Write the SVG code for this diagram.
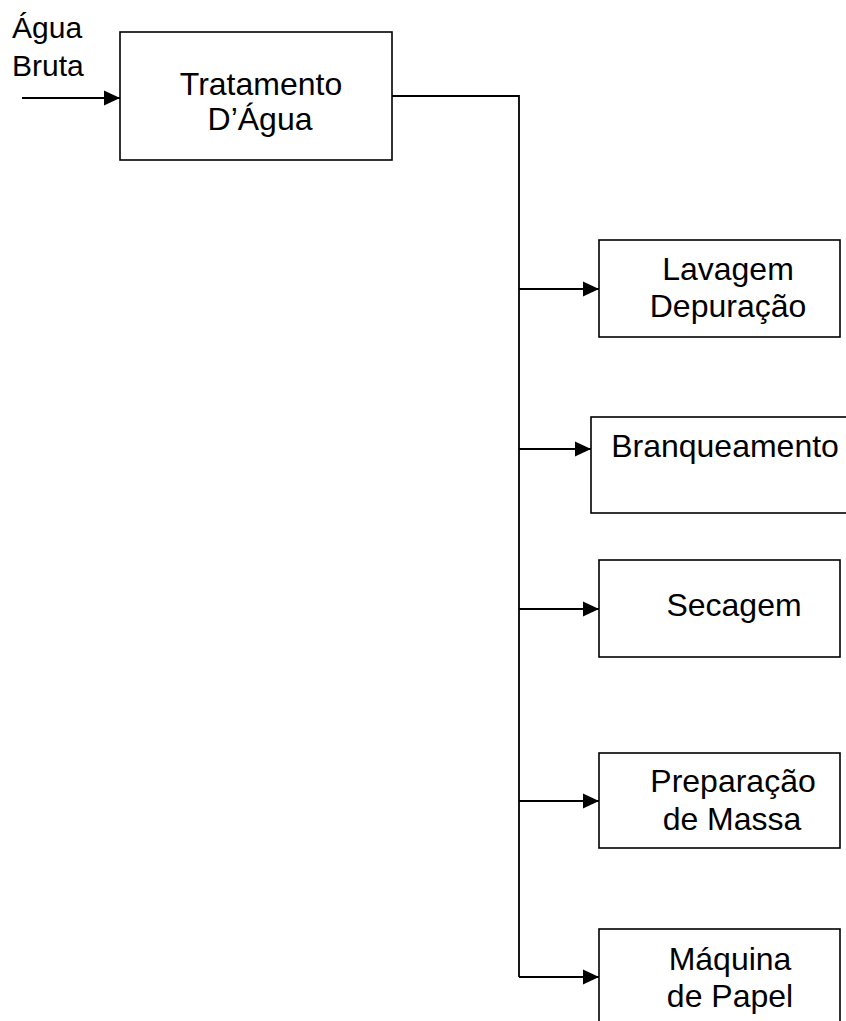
<svg xmlns="http://www.w3.org/2000/svg" width="846" height="1021" viewBox="0 0 846 1021">
<style>
.box{fill:#fff;stroke:#000;stroke-width:1.6}
.t{font-family:"Liberation Sans",Arial,sans-serif;font-size:32px;fill:#000;text-anchor:middle}
.ts{font-family:"Liberation Sans",Arial,sans-serif;font-size:30px;fill:#000}
.c{fill:none;stroke:#000;stroke-width:1.8}
.a{fill:none;stroke:#000;stroke-width:2;marker-end:url(#ah)}
</style>
<defs>
<marker id="ah" markerUnits="userSpaceOnUse" markerWidth="16" markerHeight="16" refX="16" refY="8" orient="auto">
<path d="M0,0.5 L16,8 L0,15.5 z" fill="#000"/>
</marker>
</defs>
<rect width="846" height="1021" fill="#fff"/>
<g id="input-label">
<text class="ts" x="12" y="38">Água</text>
<text class="ts" x="12" y="76">Bruta</text>
</g>
<g id="tratamento">
<rect class="box" x="120" y="32" width="272" height="128"/>
<text class="t" x="261" y="95">Tratamento</text>
<text class="t" x="260" y="130">D’Água</text>
</g>
<g id="lavagem">
<rect class="box" x="599" y="240" width="241" height="97"/>
<text class="t" x="728" y="280">Lavagem</text>
<text class="t" x="728" y="317">Depuração</text>
</g>
<g id="branqueamento">
<rect class="box" x="591" y="417" width="270" height="96"/>
<text class="t" x="725" y="457">Branqueamento</text>
</g>
<g id="secagem">
<rect class="box" x="599" y="560" width="241" height="97"/>
<text class="t" x="734" y="616">Secagem</text>
</g>
<g id="preparacao">
<rect class="box" x="599" y="753" width="241" height="95"/>
<text class="t" x="733" y="792">Preparação</text>
<text class="t" x="732" y="830">de Massa</text>
</g>
<g id="maquina">
<rect class="box" x="599" y="929" width="241" height="130"/>
<text class="t" x="730" y="970">Máquina</text>
<text class="t" x="730" y="1007">de Papel</text>
</g>
<g id="connectors">
<line class="a" x1="22" y1="98" x2="120" y2="98"/>
<path class="c" d="M392,96 H519 V977"/>
<line class="a" x1="519" y1="289" x2="599" y2="289"/>
<line class="a" x1="519" y1="449" x2="591" y2="449"/>
<line class="a" x1="519" y1="609" x2="599" y2="609"/>
<line class="a" x1="519" y1="801" x2="599" y2="801"/>
<line class="a" x1="519" y1="977" x2="599" y2="977"/>
</g>
</svg>
